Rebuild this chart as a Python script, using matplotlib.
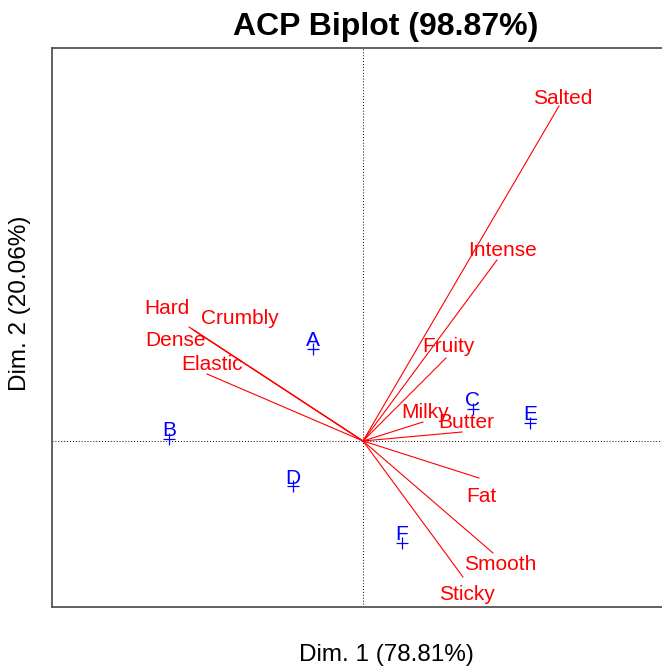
import matplotlib
matplotlib.use('Agg')
import matplotlib.pyplot as plt

plt.rcParams['font.family'] = ['Liberation Sans', 'DejaVu Sans']

# individuals (PCA scores, dim 1 / dim 2)
ind_names = ['A', 'B', 'C', 'D', 'E', 'F']
ind_x = [-0.50, -1.94, 1.10, -0.70, 1.67, 0.39]
ind_y = [0.92, 0.02, 0.32, -0.45, 0.18, -1.02]

# variables (arrow tips)
var_names = ['Salted', 'Intense', 'Fruity', 'Milky', 'Butter', 'Fat',
             'Smooth', 'Sticky', 'Hard', 'Crumbly', 'Dense', 'Elastic']
var_x = [1.96, 1.34, 0.83, 0.60, 0.99, 1.16, 1.30, 1.00, -1.74, -1.71, -1.68, -1.56]
var_y = [3.35, 1.81, 0.83, 0.19, 0.09, -0.37, -1.12, -1.36, 1.14, 1.12, 1.10, 0.67]

title = 'ACP Biplot (98.87%)'
xlab = 'Dim. 1 (78.81%)'
ylab = 'Dim. 2 (20.06%)'

# label offsets from arrow tip, in pixels (dx right, dy up)
var_offsets = [(4, 7), (6, 9), (2, 11), (2, 10), (4, 9), (2, -18),
               (7, -11), (4, -18), (-22, 18), (48, 10), (-19, -9), (5, 9)]

W, H = 662, 667
fig = plt.figure(figsize=(W / 100, H / 100), dpi=100)
left, right, top, bottom = 52, 720, 48, 607
ax = fig.add_axes([left / W, (H - bottom) / H, (right - left) / W, (bottom - top) / H])
ax.set_xlim(-3.11, 3.57)
ax.set_ylim(-1.66, 3.93)

ax.axhline(0, color='black', linestyle=(0, (1, 2)), linewidth=0.7)
ax.axvline(0, color='black', linestyle=(0, (1, 2)), linewidth=0.7)

px = 0.72  # one pixel in points at dpi 100
for name, x, y, (dx, dy) in zip(var_names, var_x, var_y, var_offsets):
    ax.plot([0, x], [0, y], color='#ff0000', linewidth=0.8)
    ax.annotate(name, (x, y), xytext=(dx * px, dy * px), textcoords='offset points',
                ha='center', va='center', color='#ff0000', fontsize=15)

ax.plot(ind_x, ind_y, linestyle='none', marker='+', color='#0000ff',
        markersize=8, markeredgewidth=0.9)
for name, x, y in zip(ind_names, ind_x, ind_y):
    ax.annotate(name, (x, y), xytext=(0, 8 * px), textcoords='offset points',
                ha='center', va='center', color='#0000ff', fontsize=15)

ax.set_xticks([])
ax.set_yticks([])
for s in ax.spines.values():
    s.set_color('#555555')
    s.set_linewidth(1.3)

fig.text(386 / W, 1 - 27 / H, title, ha='center', va='center',
         fontsize=23, fontweight='bold')
fig.text(386 / W, 1 - 655 / H, xlab, ha='center', va='center', fontsize=17.5)
fig.text(20 / W, 1 - 303 / H, ylab, ha='center', va='center', fontsize=17.5,
         rotation=90)

fig.savefig('out.png', dpi=100)
